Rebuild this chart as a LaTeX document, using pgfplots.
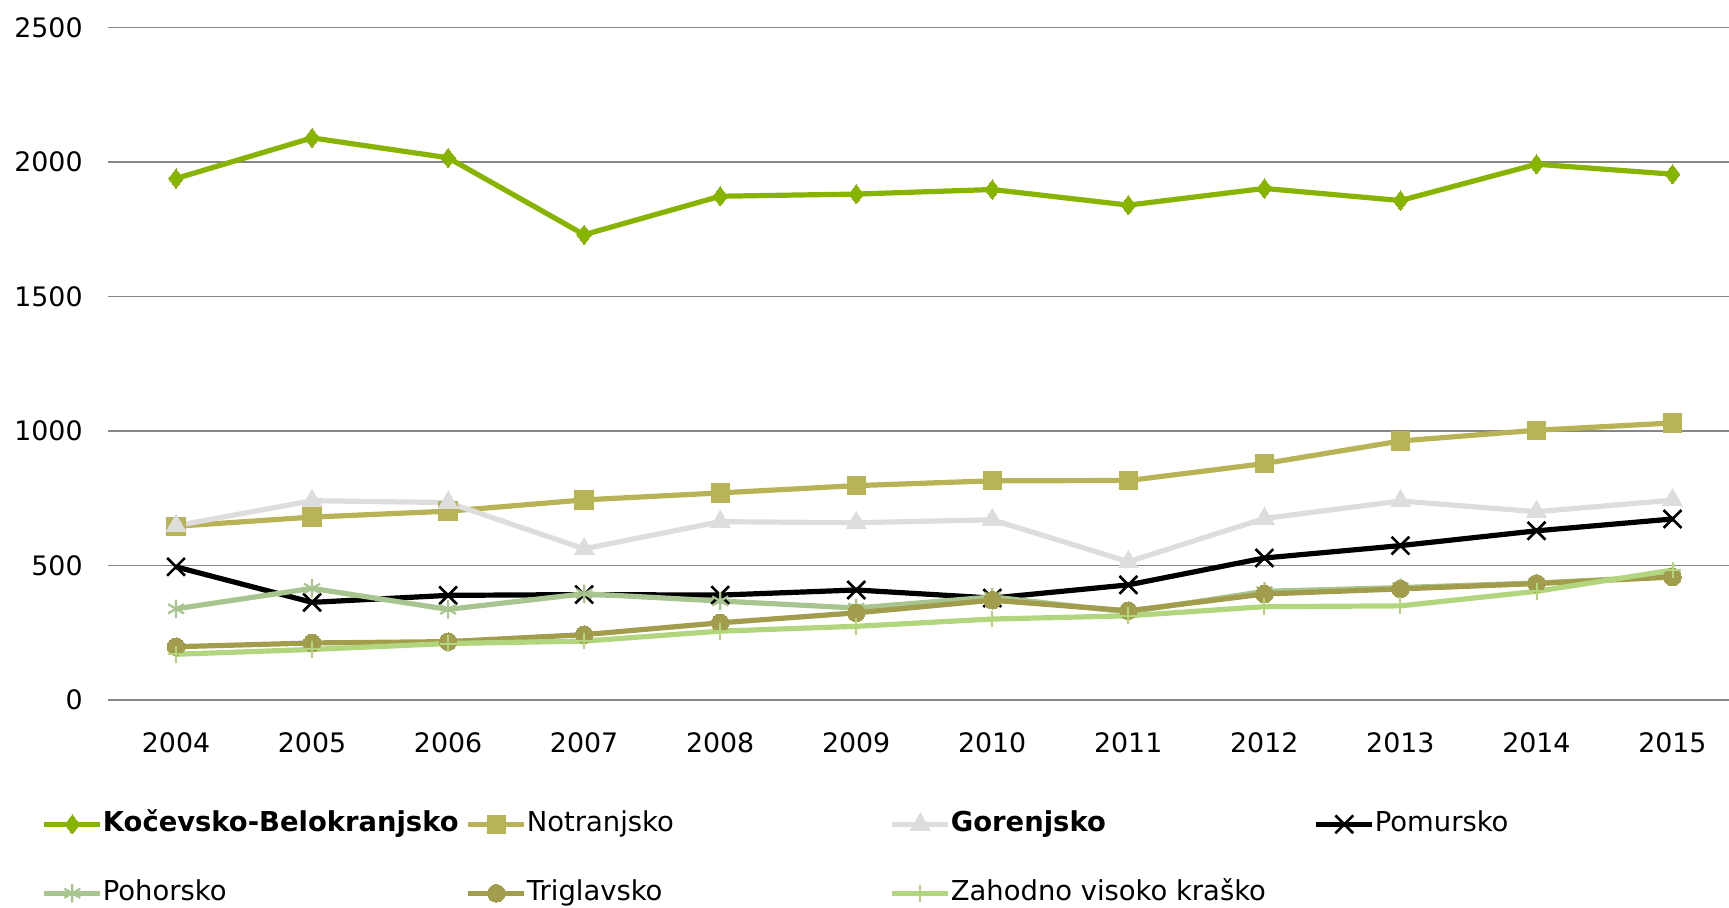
\documentclass[border=0pt]{standalone}
\usepackage{pgfplots}
\pgfplotsset{compat=1.18}
\usepackage{pgfplotstable}
\usepackage{fontspec}
\setmainfont{DejaVu Sans}
\usetikzlibrary{plotmarks}

\definecolor{kocev}{HTML}{86B400}
\definecolor{notra}{HTML}{B7B356}
\definecolor{goren}{HTML}{DDDDDD}
\definecolor{pohor}{HTML}{A8C48F}
\definecolor{trigl}{HTML}{A19D4C}
\definecolor{zahod}{HTML}{B2D67D}
\definecolor{gridc}{HTML}{868686}

\pgfplotstableread{
year K    N    G   Pm  Ph  T   Z
2004 1939 646  648 495 339 198 170
2005 2090 680  741 363 415 212 188
2006 2016 702  734 389 337 217 210
2007 1730 744  562 392 395 243 219
2008 1873 770  663 390 368 287 256
2009 1881 797  659 409 342 324 274
2010 1898 815  670 379 383 371 301
2011 1840 816  514 428 327 332 313
2012 1902 879  675 528 404 394 347
2013 1857 963  740 574 418 413 350
2014 1992 1003 700 629 435 433 404
2015 1955 1030 743 673 460 457 483
}\data

\newcommand{\tfont}{\fontsize{13.4}{16}\selectfont}
\newcommand{\lfont}{\fontsize{13.7}{16.4}\selectfont}

\begin{document}
\begin{tikzpicture}
\useasboundingbox (0,0) rectangle (864.5pt,-454pt);
\begin{axis}[
    at={(54pt,-13.8pt)}, anchor=north west,
    scale only axis,
    width=810.5pt, height=336.2pt,
    xmin=2003.5, xmax=2015.415,
    ymin=0, ymax=2500,
    xtick={2004,...,2015},
    ytick={0,500,...,2500},
    major tick length=0pt,
    axis x line*=bottom,
    axis y line*=left,
    x axis line style={draw=gridc, line width=1pt, -},
    y axis line style={draw=none},
    ymajorgrids=true,
    grid style={draw=gridc, line width=0.65pt},
    /pgf/number format/assume math mode=true,
    /pgf/number format/1000 sep={},
    ticklabel style={font=\tfont},
    xticklabel style={inner sep=0pt, anchor=north, yshift=-16pt},
    yticklabel style={inner sep=0pt, anchor=east, xshift=-12.5pt},
    clip=false,
    legend columns=4,
    legend style={
        at={(axis description cs:-0.0409,-0.1655)}, anchor=north west,
        draw=none, fill=none, inner sep=0pt, outer sep=0pt,
        font=\lfont, row sep=21.5pt,
        nodes={inner sep=0pt, text height=10pt, text depth=3pt},
        /tikz/every odd column/.append style={column sep=0pt},
        /tikz/every even column/.append style={column sep=0pt},
    },
    legend cell align=left,
    legend image code/.code={
        \draw[mark repeat=2, mark phase=2] plot coordinates {(0pt,0pt) (14pt,0pt) (28pt,0pt)};
    },
    every axis plot/.append style={line width=2.6pt},
]
\addplot[kocev, mark=diamond*, mark size=4.8pt, mark options={line width=0pt, fill=kocev}]
    table[x=year, y=K] {\data};
\addlegendentry{\makebox[181.4pt][l]{\textbf{Kočevsko-Belokranjsko}}}
\addplot[notra, mark=square*, mark size=4.6pt, mark options={line width=0pt, fill=notra}]
    table[x=year, y=N] {\data};
\addlegendentry{\makebox[181.4pt][l]{Notranjsko}}
\addplot[goren, mark=triangle*, mark size=5.8pt, mark options={line width=0pt, fill=goren}]
    table[x=year, y=G] {\data};
\addlegendentry{\makebox[181.4pt][l]{\textbf{Gorenjsko}}}
\addplot[black, mark=x, mark size=6.3pt, mark options={line width=1.3pt}]
    table[x=year, y=Pm] {\data};
\addlegendentry{\makebox[181.4pt][l]{Pomursko}}
\addplot[pohor, mark=asterisk, mark size=4.6pt, mark options={line width=1.1pt}]
    table[x=year, y=Ph] {\data};
\addlegendentry{\makebox[181.4pt][l]{Pohorsko}}
\addplot[trigl, mark=*, mark size=4.4pt, mark options={line width=0pt, fill=trigl}]
    table[x=year, y=T] {\data};
\addlegendentry{\makebox[181.4pt][l]{Triglavsko}}
\addplot[zahod, mark=+, mark size=4.2pt, mark options={line width=1pt}]
    table[x=year, y=Z] {\data};
\addlegendentry{\makebox[181.4pt][l]{Zahodno visoko kraško}}
\end{axis}
\end{tikzpicture}
\end{document}
